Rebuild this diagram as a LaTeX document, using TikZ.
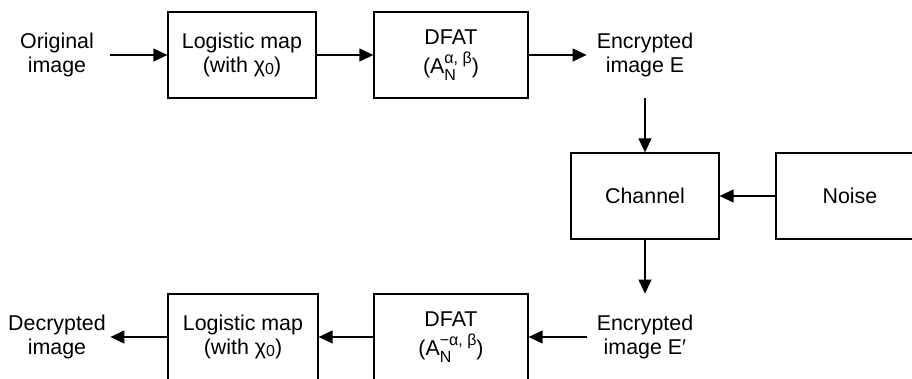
\documentclass[tikz,border=0pt]{standalone}
\usepackage{fontspec}
\setmainfont{Liberation Sans}
\usetikzlibrary{arrows.meta,positioning,calc}
\newcommand{\chizero}{χ\raisebox{-0.2ex}{\footnotesize 0}}
\newcommand{\dfatA}[1]{A\rlap{\raisebox{-0.6ex}{\footnotesize N}}\raisebox{0.95ex}{\footnotesize #1}}

\begin{document}
\begin{tikzpicture}[x=0.5pt,y=-0.5pt,%
        box/.style={draw,line width=0.65pt,minimum height=43pt,align=center},
        txt/.style={minimum height=43pt,minimum width=53pt,inner sep=0pt,align=center},
        flow/.style={-{Triangle[length=7pt,width=6.5pt]},line width=0.65pt},
        font=\fontsize{10.7}{11.8}\selectfont]

        \useasboundingbox (0,0) rectangle (912,379);
        %% first line
        \node [txt] (orig_li1) at (57,55) {Original\\image};
        \node [box,minimum width=74pt] (logmap_li1) at (242,55) {Logistic map\\(with \chizero)};
        \node [box,minimum width=77pt] (dfat_li1) at (451,55) {DFAT\\[3pt](\dfatA{α, β})};
        \node [txt,minimum width=58pt] (enc_li1) at (645,55) {Encrypted\\image E};
        %% channel and noise
        \node [box,minimum width=74pt] (chan) at (645,196) {Channel};
        \node [box,minimum width=74pt] (noise) at ($(chan)+(205,0)$) {Noise};
        %% second line
        \node [txt,minimum width=58pt] (enc_li2) at (645,337) {Encrypted\\image E′};
        \node [box,minimum width=77pt] (dfat_li2) at (451,337) {DFAT\\[3pt](\dfatA{−α, β})};
        \node [box,minimum width=75pt] (logmap_li2) at (243,337) {Logistic map\\(with \chizero)};
        \node [txt] (dec_li2) at (57,337) {Decrypted\\image};

        \draw [flow] (orig_li1) -- (logmap_li1);
        \draw [flow] (logmap_li1) -- (dfat_li1);
        \draw [flow] (dfat_li1) -- (enc_li1);
        \draw [flow] (enc_li1) -- (chan);
        \draw [flow] (noise) -- (chan);
        \draw [flow] (chan) -- (enc_li2);
        \draw [flow] (enc_li2) -- (dfat_li2);
        \draw [flow] (dfat_li2) -- (logmap_li2);
        \draw [flow] (logmap_li2) -- (dec_li2);
      \end{tikzpicture}
\end{document}
